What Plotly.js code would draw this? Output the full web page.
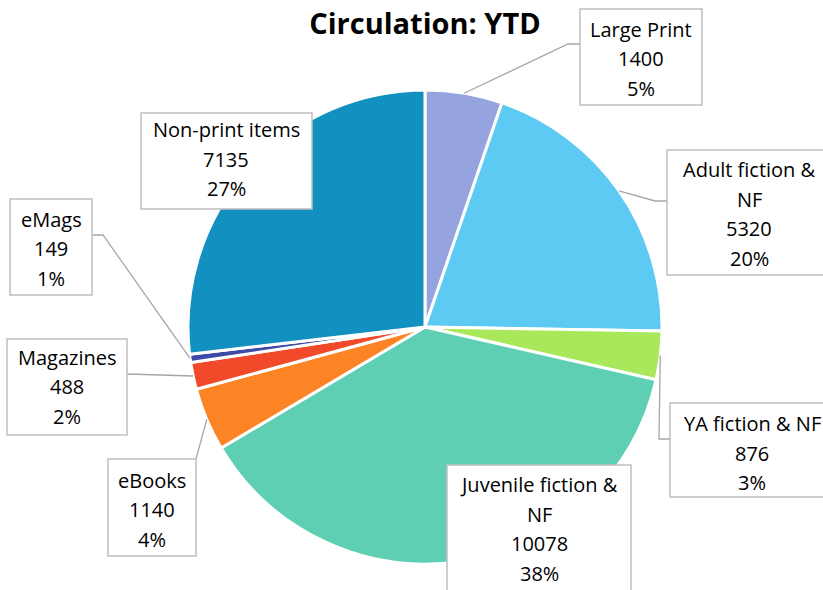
<!DOCTYPE html>
<html>
<head>
<meta charset="utf-8">
<script src="https://cdn.plot.ly/plotly-3.0.1.min.js"></script>
<style>html,body{margin:0;padding:0;background:#fff;}#chart{width:823px;height:590px;}</style>
</head>
<body>
<div id="chart"></div>
<script>
// ---- data ----
const categories = ["Large Print", "Adult fiction & NF", "YA fiction & NF", "Juvenile fiction & NF", "eBooks", "Magazines", "eMags", "Non-print items"];
const labelLines = [["Large Print"], ["Adult fiction &", "NF"], ["YA fiction & NF"], ["Juvenile fiction &", "NF"], ["eBooks"], ["Magazines"], ["eMags"], ["Non-print items"]];
const values = [1400, 5320, 876, 10078, 1140, 488, 149, 7135];
const colors = ["#95A3DE", "#5DCAF3", "#A8E85A", "#5ECFB2", "#FD8424", "#F04A2A", "#3E4AA5", "#1290C0"];

// ---- layout (pixel positions of label boxes) ----
const W = 823, H = 590;
const CX = 425, CY = 327, R = 237;
const boxes = [
  {b: [580, 9, 702, 105], tx: 641, ty: 29.5, lead: [568, 44, 580, 44]},
  {b: [667, 150, 834, 275], tx: 749, ty: 169.5, lead: [655, 201, 667, 201]},
  {b: [670, 403, 834, 497], tx: 752, ty: 423.5, lead: [659, 439, 670, 439]},
  {b: [447, 465, 631, 600], tx: 539, ty: 484.5, lead: null},
  {b: [108, 459, 196, 556], tx: 152, ty: 480, lead: [196, 459, 196, 459]},
  {b: [7, 339, 127, 435], tx: 67, ty: 357, lead: [127, 374, 127, 374]},
  {b: [10, 199, 92, 295], tx: 51, ty: 219, lead: [103, 235, 92, 235]},
  {b: [141, 113, 312, 209], tx: 226, ty: 130, lead: null}
];
const LINE = 29.5;
const FONT = "'Open Sans', sans-serif";
const fx = x => x / W;
const fy = y => 1 - y / H;

const total = values.reduce((a, b) => a + b, 0);
const shapes = [];
const annotations = [];
let cum = 0;
values.forEach((v, i) => {
  const mid = (cum + v / 2) / total * 2 * Math.PI;
  cum += v;
  const px = CX + R * Math.sin(mid), py = CY - R * Math.cos(mid);
  const bx = boxes[i];
  if (bx.lead) {
    const [ex, ey, tx2, ty2] = bx.lead;
    shapes.push({type: "path", xref: "paper", yref: "paper",
      path: `M ${fx(px)},${fy(py)} L ${fx(ex)},${fy(ey)} L ${fx(tx2)},${fy(ty2)}`,
      line: {color: "#A6A6A6", width: 1.3}});
  }
  shapes.push({type: "rect", xref: "paper", yref: "paper",
    x0: fx(bx.b[0]), x1: fx(bx.b[2]), y0: fy(bx.b[3]), y1: fy(bx.b[1]),
    fillcolor: "#FFFFFF", line: {color: "#BFBFBF", width: 1.5}, layer: "above"});
  const pct = Math.round(v / total * 100) + "%";
  const lines = labelLines[i].concat([String(v), pct]);
  lines.forEach((t, k) => {
    annotations.push({xref: "paper", yref: "paper", x: fx(bx.tx), y: fy(bx.ty + k * LINE),
      xanchor: "center", yanchor: "middle", text: t, showarrow: false,
      font: {family: FONT, size: 20, color: "#000000"}});
  });
});

const trace = {
  type: "pie",
  labels: categories,
  values: values,
  sort: false,
  direction: "clockwise",
  rotation: 0,
  textinfo: "none",
  hoverinfo: "none",
  marker: {colors: colors, line: {color: "#FFFFFF", width: 3}},
  domain: {x: [fx(CX - R), fx(CX + R)], y: [fy(CY + R), fy(CY - R)]},
  showlegend: false
};

const layout = {
  width: W, height: H,
  margin: {l: 0, r: 0, t: 0, b: 0},
  paper_bgcolor: "#FFFFFF",
  showlegend: false,
  title: {text: "<b>Circulation: YTD</b>", x: fx(425), xanchor: "center", y: 1 - 24 / H, yanchor: "middle",
    xref: "paper", yref: "container", font: {family: FONT, size: 29, color: "#000000"}},
  shapes: shapes,
  annotations: annotations
};

Plotly.newPlot("chart", [trace], layout, {staticPlot: true, displayModeBar: false});
</script>
</body>
</html>
